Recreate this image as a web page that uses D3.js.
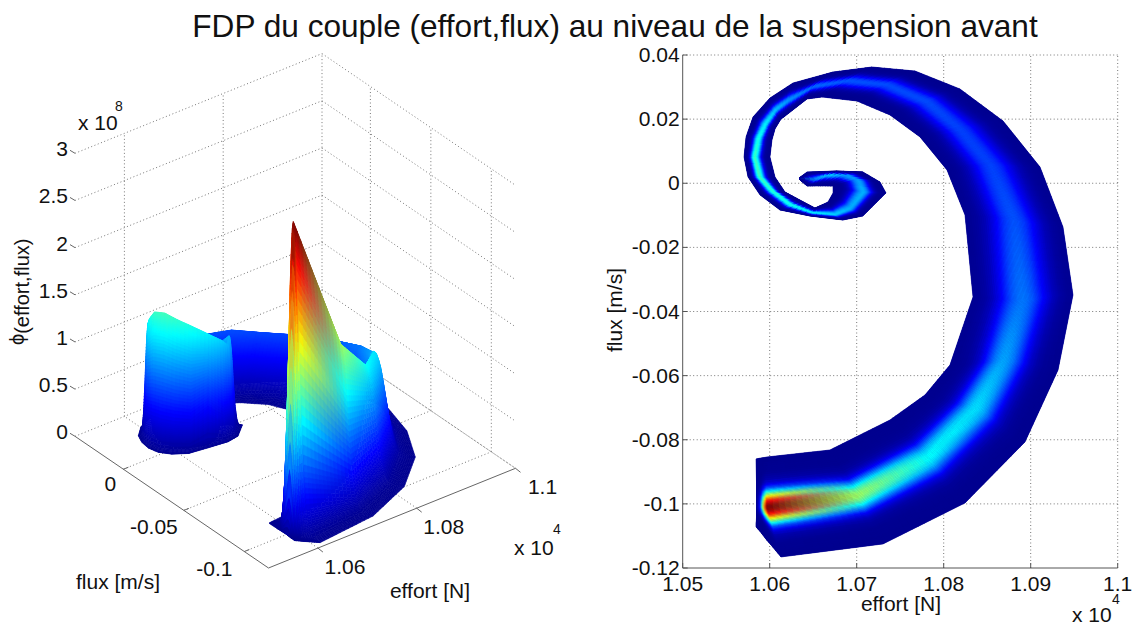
<!DOCTYPE html>
<html><head><meta charset="utf-8">
<script src="https://cdnjs.cloudflare.com/ajax/libs/d3/7.8.5/d3.min.js"></script>
<style>html,body{margin:0;padding:0;background:#fff}svg{display:block}text{font-family:"Liberation Sans",Arial,sans-serif;fill:#111}</style>
</head><body><svg id="c" width="1137" height="625"></svg>
<script>
// ---- data (effort in 1e4 N, flux in m/s, density in 1e8) ----
const outerEffort=[1.05843,1.05889,1.05929,1.05969,1.06015,1.06072,1.0613,1.07302,1.08245,1.08934,1.09314,1.09486,1.09371,1.09107,1.08682,1.08187,1.0767,1.07176,1.06728,1.06268,1.06003,1.05808,1.05728,1.05705,1.05751,1.05889,1.06118,1.06463,1.06843,1.07072,1.07337,1.07268,1.07072,1.06774,1.06429,1.06337];
const outerFlux=[-.1072,-.1086,-.11,-.11141,-.11281,-.11469,-.11656,-.1125,-.09971,-.08069,-.05824,-.03485,-.01364,.00507,.01942,.0294,.03501,.03626,.0347,.03127,.02659,.02066,.01443,.00819,.00195,-.00366,-.00834,-.01021,-.01146,-.01021,-.00304,.00039,.00351,.00382,.00351,.00164];
const ridgeEffort=[1.05854,1.05871,1.05889,1.05906,1.05923,1.05946,1.05969,1.07015,1.0782,1.0836,1.08682,1.089,1.08808,1.08532,1.08187,1.07808,1.07348,1.069,1.06498,1.0621,1.06072,1.05957,1.05877,1.05831,1.05889,1.06026,1.06233,1.06486,1.06751,1.06923,1.07072,1.07015,1.06866,1.06659,1.06521,1.06348];
const ridgeFlux=[-.10096,-.10096,-.10096,-.10096,-.10096,-.10096,-.10096,-.09722,-.08537,-.07009,-.05512,-.03641,-.01146,.0057,.01661,.02534,.03064,.03189,.03002,.02565,.02285,.01848,.01412,.00819,.00195,-.0021,-.00647,-.00896,-.00959,-.00772,-.00273,.00102,.00258,.00258,.00102,.00133];
const innerEffort=[1.05843,1.0586,1.05877,1.059,1.05918,1.05946,1.05969,1.06693,1.07383,1.07785,1.08072,1.08337,1.08245,1.08038,1.07728,1.07383,1.07003,1.06601,1.06429,1.06164,1.0613,1.06061,1.06026,1.06003,1.06061,1.06176,1.06348,1.06521,1.0667,1.06728,1.06728,1.06728,1.06636,1.06532,1.06429,1.06348];
const innerFlux=[-.08599,-.0859,-.0858,-.0857,-.0856,-.0855,-.08537,-.08319,-.07383,-.06603,-.05668,-.03547,-.0099,.00414,.01443,.02129,.02565,.0269,.02628,.02066,.02004,.01692,.01349,.00819,.00195,-.00273,-.00522,-.00772,-.00584,-.00304,-.00117,-.00085,-.00085,-.00085,-.00085,.00102];
const ridgeDensity=[0,.17,.4,1,1.8,2.6,3.3,1.75,1.25,1.15,.95,.8,.68,.63,.63,.66,.66,.69,.76,.89,1.02,1.19,1.29,1.42,1.45,1.39,1.31,1.2,1.08,.98,1,.92,.92,1.08,.85,0];
const ridgeSpread=[1,.85,.85,.85,.9,.95,.95,.9,1,1.1,1.2,1.5,1.5,1.4,1.3,1.2,1.15,1.15,1.15,1.15,1.15,1.15,1.15,1.15,1.15,1.15,1.15,1.3,1.15,1.15,1.15,1.15,1.15,1.3,1.3,1];
const crossPosition=[0,.05,.1,.15,.2,.3,.4,.5,.6,.75,1];
const crossShape=[1,.98,.92,.84,.72,.46,.22,.09,.03,.005,0];
const densityMax=3.3;
const jetStops=[0,.125,.375,.625,.875,1];
const jetColors=["#00008f","#0000ff","#00ffff","#ffff00","#ff0000","#800000"];
const effortTicks2D=[1.05,1.06,1.07,1.08,1.09,1.1];
const fluxTicks2D=[.04,.02,0,-.02,-.04,-.06,-.08,-.1,-.12];
const effortLabels2D=["1.05","1.06","1.07","1.08","1.09","1.1"];
const fluxLabels2D=["0.04","0.02","0","-0.02","-0.04","-0.06","-0.08","-0.1","-0.12"];
const effortTicks3D=[1.06,1.08,1.1];
const fluxTicks3D=[0,-.05,-.1];
const densityTicks=[0,.5,1,1.5,2,2.5,3];
const titleText="FDP du couple (effort,flux) au niveau de la suspension avant";

// ---- scales ----
const svg=d3.select("#c");
const jet=d3.scaleLinear().domain(jetStops).range(jetColors).clamp(true);
const shape=d3.scaleLinear().domain(crossPosition).range(crossShape).clamp(true);
const x2=d3.scaleLinear([1.05,1.1],[682.7,1117.7]);
const y2=d3.scaleLinear([-.12,.04],[568,55]);
const ef=d3.scaleLinear([1.05,1.1],[0,1]);
const ff=d3.scaleLinear([-.12,.04],[0,1]);
const zp=d3.scaleLinear([0,3],[0,283]);
const B={x:268.5,y:568},E={x:247,y:-99.7},F={x:-193.5,y:-131.7};
const proj=(e,f,z)=>[B.x+ef(e)*E.x+ff(f)*F.x, B.y+ef(e)*E.y+ff(f)*F.y-zp(z)];
const depth=(e,f,z)=>269*(ef(e)*.617+ff(f)*.787)-170*z/3;
const lerp=(a,b,t)=>a+(b-a)*t;

// ---- mesh ----
const lin=(n0,n1,n)=>d3.range(n).map(i=>n0+(n1-n0)*i/n);
const grid=(half)=>[...half.slice(1).reverse().map(t=>-t),...half];
const tCoarse=grid([...lin(0,.5,20),...lin(.5,1,12),1]);
const tFine=grid([...lin(0,.6,48),...lin(.6,1,8),1]);
function vertex(i,a,t){
  const sE=t<0?outerEffort:innerEffort,sF=t<0?outerFlux:innerFlux,u=Math.abs(t);
  const at=(j)=>({e:lerp(ridgeEffort[j],sE[j],u),f:lerp(ridgeFlux[j],sF[j],u),z:ridgeDensity[j]*shape(u/ridgeSpread[j])});
  const p=at(i),q=at(i+1);
  return {e:lerp(p.e,q.e,a),f:lerp(p.f,q.f,a),z:lerp(p.z,q.z,a),p,q};
}
function colorOf(v,a){return d3.interpolateRgb(jet(v.p.z/densityMax),jet(v.q.z/densityMax))(a);}
function buildQuads(tGrid,step){
  const quads=[];
  for(let i=0;i<ridgeEffort.length-1;i++){
    const dO=Math.hypot(x2(outerEffort[i+1])-x2(outerEffort[i]),y2(outerFlux[i+1])-y2(outerFlux[i]));
    const dI=Math.hypot(x2(ridgeEffort[i+1])-x2(ridgeEffort[i]),y2(ridgeFlux[i+1])-y2(ridgeFlux[i]));
    const n=Math.max(2,Math.ceil(Math.max(dO,dI)/step));
    for(let j=0;j<n;j++){
      const a=j/n,b=(j+1)/n;
      for(let k=0;k<tGrid.length-1;k++){
        const t0=tGrid[k],t1=tGrid[k+1];
        const corners=[vertex(i,a,t0),vertex(i,b,t0),vertex(i,b,t1),vertex(i,a,t1)];
        const c=vertex(i,(a+b)/2,(t0+t1)/2);
        quads.push({corners,color:colorOf(c,(a+b)/2),d:depth(c.e,c.f,c.z)});
      }
    }
  }
  return quads;
}

// ---- title ----
svg.append("text").attr("x",615).attr("y",37).attr("text-anchor","middle").attr("font-size",31.6).text(titleText);

// ---- left: 3D panel ----
const left=svg.append("g");
const dot="#777";
const seg=(g,a,b,col,dash)=>g.append("line").attr("x1",a[0]).attr("y1",a[1]).attr("x2",b[0]).attr("y2",b[1]).attr("stroke",col).attr("stroke-width",1).attr("stroke-dasharray",dash||null);
const D="1 2.5";
const effMax=1.1,effMin=1.05,fMax=.04,fMin=-.12,zMax=3;
effortTicks3D.forEach(e=>{
  seg(left,proj(e,fMin,0),proj(e,fMax,0),dot,D);
  seg(left,proj(e,fMax,0),proj(e,fMax,zMax),dot,D);
});
fluxTicks3D.forEach(f=>{
  seg(left,proj(effMin,f,0),proj(effMax,f,0),dot,D);
  seg(left,proj(effMax,f,0),proj(effMax,f,zMax),dot,D);
});
densityTicks.forEach(z=>{
  seg(left,proj(effMin,fMax,z),proj(effMax,fMax,z),dot,D);
  seg(left,proj(effMax,fMax,z),proj(effMax,fMin,z),dot,D);
  const p=proj(effMin,fMax,z);
  seg(left,[p[0]-5,p[1]-3],[p[0],p[1]],"#666");
  left.append("text").attr("x",p[0]-7).attr("y",p[1]+3).attr("text-anchor","end").attr("font-size",21).text(z);
});
seg(left,proj(effMin,fMax,0),proj(effMin,fMin,0),"#666");
seg(left,proj(effMin,fMin,0),proj(effMax,fMin,0),"#666");
fluxTicks3D.forEach(f=>{
  const p=proj(effMin,f,0);
  seg(left,p,[p[0]+5,p[1]-2],"#666");
  left.append("text").attr("x",p[0]-(f===0?13:30)).attr("y",p[1]+(f===0?22:24)).attr("text-anchor","middle").attr("font-size",21).text(f);
});
effortTicks3D.forEach(e=>{
  const p=proj(e,fMin,0);
  seg(left,p,[p[0]+5,p[1]+4],"#666");
  left.append("text").attr("x",p[0]+27).attr("y",p[1]+26).attr("text-anchor","middle").attr("font-size",21).text(e);
});
const surf=left.append("g");
const line=d3.line().curve(d3.curveLinearClosed);
surf.selectAll("path").data(buildQuads(tFine,8).sort((a,b)=>b.d-a.d)).join("path")
  .attr("d",q=>line(q.corners.map(c=>proj(c.e,c.f,c.z))))
  .attr("fill",q=>q.color).attr("stroke",q=>q.color).attr("stroke-width",.6);

left.append("text").attr("x",78).attr("y",130).attr("font-size",21).text("x 10");
left.append("text").attr("x",115).attr("y",111).attr("font-size",14).text("8");
left.append("text").attr("x",514).attr("y",555).attr("font-size",21).text("x 10");
left.append("text").attr("x",553).attr("y",534).attr("font-size",14).text("4");
left.append("text").attr("x",118).attr("y",589).attr("text-anchor","middle").attr("font-size",21).text("flux [m/s]");
left.append("text").attr("x",430).attr("y",598).attr("text-anchor","middle").attr("font-size",21).text("effort [N]");
const zl=left.append("text").attr("transform","translate(24,345) rotate(-90)").attr("font-size",20);
zl.append("tspan").text("ϕ");
zl.append("tspan").attr("dy",5).attr("font-size",20).text("(effort,flux)");

// ---- right: density map ----
const right=svg.append("g");
effortTicks2D.slice(1).forEach(e=>seg(right,[x2(e),y2(fMin)],[x2(e),y2(fMax)],dot,D));
fluxTicks2D.slice(0,-1).forEach(f=>seg(right,[x2(effMin),y2(f)],[x2(effMax),y2(f)],dot,D));
const outline=[...outerEffort.map((e,i)=>[x2(e),y2(outerFlux[i])]),...innerEffort.map((e,i)=>[x2(e),y2(innerFlux[i])]).reverse()];
right.append("path").attr("d",line(outline)).attr("fill",jetColors[0]);
right.append("g").selectAll("path").data(buildQuads(tCoarse,7)).join("path")
  .attr("d",q=>line(q.corners.map(c=>[x2(c.e),y2(c.f)])))
  .attr("fill",q=>q.color).attr("stroke",q=>q.color).attr("stroke-width",.6);
seg(right,[x2(effMin),y2(fMin)],[x2(effMin),y2(fMax)],"#555");
seg(right,[x2(effMin),y2(fMin)],[x2(effMax),y2(fMin)],"#555");
effortTicks2D.forEach((e,i)=>{
  seg(right,[x2(e),y2(fMin)],[x2(e),y2(fMin)-5],"#555");
  right.append("text").attr("x",x2(e)).attr("y",y2(fMin)+23).attr("text-anchor","middle").attr("font-size",21).text(effortLabels2D[i]);
});
fluxTicks2D.forEach((f,i)=>{
  seg(right,[x2(effMin),y2(f)],[x2(effMin)+5,y2(f)],"#555");
  right.append("text").attr("x",x2(effMin)-3).attr("y",y2(f)+7).attr("text-anchor","end").attr("font-size",21).text(fluxLabels2D[i]);
});
right.append("text").attr("x",901).attr("y",611).attr("text-anchor","middle").attr("font-size",21).text("effort [N]");
right.append("text").attr("transform","translate(622,310) rotate(-90)").attr("text-anchor","middle").attr("font-size",21).text("flux [m/s]");
right.append("text").attr("x",1072).attr("y",622).attr("font-size",21).text("x 10");
right.append("text").attr("x",1112).attr("y",604).attr("font-size",14).text("4");
</script></body></html>
